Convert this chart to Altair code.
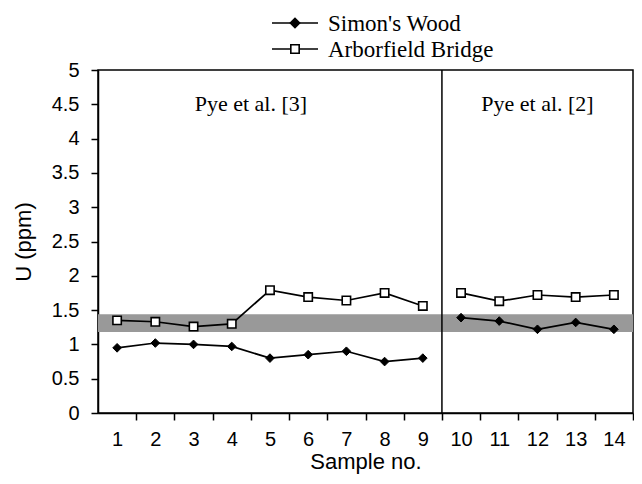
import altair as alt
import pandas as pd

# ---- data ----
samples = list(range(1, 15))
simons_wood = [0.95, 1.02, 1.00, 0.97, 0.80, 0.85, 0.90, 0.75, 0.80, 1.39, 1.34, 1.22, 1.32, 1.22]
arborfield = [1.35, 1.33, 1.26, 1.30, 1.79, 1.69, 1.64, 1.75, 1.56, 1.75, 1.63, 1.72, 1.69, 1.72]
study = ["Pye et al. [3]"] * 9 + ["Pye et al. [2]"] * 5
series_names = ["Simon's Wood", "Arborfield Bridge"]

band_low = [1.18]
band_high = [1.44]
band_x_start = [0.5]
band_x_end = [14.5]

divider_x = [9.5]
study_labels = ["Pye et al. [3]", "Pye et al. [2]"]
study_label_x = [4.5, 12]
study_label_y = [4.5, 4.5]

y_ticks = [0, 0.5, 1, 1.5, 2, 2.5, 3, 3.5, 4, 4.5, 5]

# ---- tables ----
df = pd.DataFrame({
    "sample": samples * 2,
    "U": simons_wood + arborfield,
    "series": [series_names[0]] * len(samples) + [series_names[1]] * len(samples),
    "study": study * 2,
})
band_df = pd.DataFrame({"x": band_x_start, "x2": band_x_end, "lo": band_low, "hi": band_high})
div_df = pd.DataFrame({"x": divider_x})
lab_df = pd.DataFrame({"label": study_labels, "x": study_label_x, "y": study_label_y})

W, H = 535, 343
half_band = W / 14 / 2

xscale = alt.Scale(domain=[0.5, 14.5], nice=False, zero=False)
yscale = alt.Scale(domain=[0, 5], nice=False)

x_axis = alt.Axis(values=samples, title="Sample no.", tickOffset=half_band, labelOffset=-half_band,
                  labelPadding=9, titlePadding=2, labelFontSize=20)
y_axis = alt.Axis(values=y_ticks, format="~g", title="U (ppm)", titlePadding=16,
                  labelPadding=12, labelFontSize=20)


def X(field):
    return alt.X(field, scale=xscale, axis=x_axis)


def Y(field):
    return alt.Y(field, scale=yscale, axis=y_axis)


band = alt.Chart(band_df).mark_rect(color="#999999").encode(
    x=X("x:Q"), x2="x2:Q", y=Y("lo:Q"), y2="hi:Q",
)

divider = alt.Chart(div_df).mark_rule(color="black", strokeWidth=1.5).encode(x=X("x:Q"))

lines = alt.Chart(df).mark_line(color="black", strokeWidth=1.7).encode(
    x=X("sample:Q"), y=Y("U:Q"),
    detail=[alt.Detail("series:N"), alt.Detail("study:N")],
)

pts_sw = alt.Chart(df).transform_filter(
    alt.datum.series == series_names[0]
).mark_point(shape="diamond", filled=True, fill="black", stroke="black", strokeWidth=1,
             size=75, opacity=1).encode(x=X("sample:Q"), y=Y("U:Q"))

pts_ab = alt.Chart(df).transform_filter(
    alt.datum.series == series_names[1]
).mark_point(shape="square", filled=True, fill="white", stroke="black", strokeWidth=1.6,
             size=70, opacity=1).encode(x=X("sample:Q"), y=Y("U:Q"))

texts = alt.Chart(lab_df).mark_text(font="Liberation Serif", fontSize=22, color="black").encode(
    x=X("x:Q"), y=Y("y:Q"), text="label:N",
)

# ---- legend (decoration above the plot) ----
leg_sw_line = alt.Chart(div_df).mark_rule(color="black", strokeWidth=1.7).encode(
    x=alt.value(174), x2=alt.value(220), y=alt.value(-47))
leg_sw_pt = alt.Chart(div_df).mark_point(shape="diamond", filled=True, fill="black", stroke="black",
                                          size=75, opacity=1).encode(x=alt.value(197), y=alt.value(-47))
leg_sw_txt = alt.Chart(div_df).mark_text(align="left", baseline="middle", font="Liberation Serif",
                                          fontSize=23, color="black").encode(
    x=alt.value(230), y=alt.value(-46), text=alt.value(series_names[0]))
leg_ab_line = alt.Chart(div_df).mark_rule(color="black", strokeWidth=1.7).encode(
    x=alt.value(174), x2=alt.value(220), y=alt.value(-21))
leg_ab_pt = alt.Chart(div_df).mark_point(shape="square", filled=True, fill="white", stroke="black",
                                          strokeWidth=1.6, size=70, opacity=1).encode(
    x=alt.value(197), y=alt.value(-21))
leg_ab_txt = alt.Chart(div_df).mark_text(align="left", baseline="middle", font="Liberation Serif",
                                          fontSize=23, color="black").encode(
    x=alt.value(230), y=alt.value(-20), text=alt.value(series_names[1]))

chart = alt.layer(
    band, divider, lines, pts_sw, pts_ab, texts,
    leg_sw_line, leg_sw_pt, leg_sw_txt, leg_ab_line, leg_ab_pt, leg_ab_txt,
).properties(
    width=W, height=H,
    autosize=alt.AutoSizeParams(type="none"),
    padding={"left": 90, "top": 62, "right": 1, "bottom": 63},
).configure_view(
    stroke="black", strokeWidth=1.5
).configure_axis(
    grid=False, domainColor="black", domainWidth=1.5, tickColor="black", tickWidth=1.5,
    tickSize=7, labelColor="black", labelFont="Liberation Sans", labelFontSize=20,
    titleFont="Liberation Sans", titleFontSize=22, titleFontWeight="normal", titleColor="black",
)

chart.save("out.html", embed_options={"renderer": "svg", "actions": False})
